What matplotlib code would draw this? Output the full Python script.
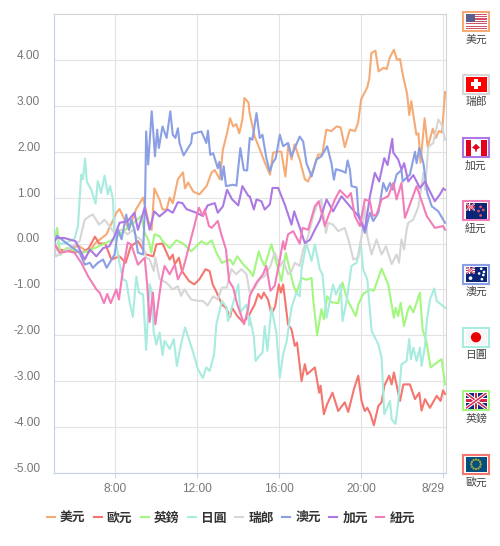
import math
import matplotlib
matplotlib.use("Agg")
from matplotlib import pyplot as plt
from matplotlib.patches import Rectangle, Circle, Polygon

plt.rcParams["font.family"] = ["Liberation Sans", "Noto Sans CJK TC", "DejaVu Sans"]

# hours since midnight of 8/28, percent change
usd_t = [5.0, 5.3, 5.8, 6.2, 6.7, 7.0, 7.56, 8.05, 8.2, 8.45, 8.65, 9.0, 9.35, 9.6, 9.77, 9.9, 10.15, 10.3, 10.5, 10.65, 10.8, 11.05, 11.3, 11.4, 11.55, 11.8, 12.1, 12.45, 12.7, 12.85, 13.1, 13.25, 13.45, 13.6, 13.75, 13.9, 14.05, 14.2, 14.3, 14.5, 14.55, 14.8, 15.05, 15.3, 15.55, 15.7, 15.95, 16.1, 16.3, 16.45, 16.6, 16.75, 17.0, 17.25, 17.4, 17.65, 17.9, 18.1, 18.3, 18.55, 18.8, 19.0, 19.2, 19.45, 19.7, 19.85, 20.0, 20.3, 20.4, 20.5, 20.7, 20.85, 21.1, 21.25, 21.4, 21.6, 21.75, 21.9, 22.05, 22.25, 22.35, 22.45, 22.55, 22.7, 22.8, 22.9, 23.1, 23.25, 23.5, 23.65, 23.8, 23.95, 24.1]
usd_v = [0, -0.2, -0.1, -0.05, -0.2, 0, 0.2, 0.67, 0.75, 0.52, 0.3, 0.74, 1.0, 0.5, 0.3, 1.2, 0.96, 0.74, 0.74, 1.0, 0.88, 1.4, 1.55, 1.2, 1.33, 1.13, 1.07, 1.25, 1.55, 1.6, 1.4, 2.05, 2.4, 2.73, 2.55, 2.6, 2.4, 2.7, 3.17, 3.07, 2.85, 2.33, 2.05, 1.76, 1.5, 1.98, 2.0, 2.0, 1.46, 2.16, 1.83, 2.16, 1.83, 1.4, 1.35, 1.6, 1.94, 1.94, 2.48, 2.45, 2.55, 2.53, 2.1, 2.48, 2.45, 2.63, 3.14, 3.4, 3.6, 4.15, 4.2, 3.75, 3.83, 3.8, 4.05, 4.22, 4.0, 4.02, 3.64, 3.25, 2.8, 3.1, 2.8, 2.37, 2.4, 1.76, 2.73, 2.1, 2.5, 2.3, 2.45, 2.42, 3.3]

eur_t = [5.0, 5.2, 6.4, 6.7, 7.0, 7.2, 7.5, 7.8, 8.2, 8.5, 8.75, 9.1, 9.2, 9.5, 9.85, 10.0, 10.3, 10.5, 10.65, 10.8, 10.9, 11.1, 11.25, 11.6, 11.85, 12.1, 12.4, 12.6, 12.75, 12.95, 13.2, 13.4, 13.6, 13.7, 13.95, 14.25, 14.5, 14.8, 14.97, 15.13, 15.25, 15.46, 15.62, 15.8, 15.98, 16.08, 16.19, 16.43, 16.6, 16.76, 16.87, 17.09, 17.25, 17.36, 17.74, 17.95, 18.02, 18.18, 18.34, 18.6, 18.88, 19.2, 19.37, 19.65, 19.86, 20.02, 20.18, 20.3, 20.46, 20.62, 20.84, 21.0, 21.13, 21.37, 21.49, 21.6, 21.9, 22.06, 22.38, 22.63, 22.84, 22.95, 23.12, 23.36, 23.69, 23.88, 24.0, 24.1]
eur_v = [0, -0.13, -0.2, -0.1, 0.15, 0, 0, -0.35, -0.28, -0.42, -0.06, 0.05, -0.02, -0.24, -0.28, -0.02, 0, -0.2, -0.35, -0.24, -0.45, -0.31, -0.6, -0.82, -0.89, -0.78, -0.56, -0.6, -0.89, -1.07, -1.33, -1.4, -1.6, -1.4, -1.58, -1.72, -1.58, -1.33, -1.1, -1.2, -1.07, -1.23, -1.54, -1.37, -0.89, -1.07, -0.89, -1.76, -1.87, -2.23, -2.16, -3.0, -2.63, -2.85, -2.7, -3.25, -3.1, -3.72, -3.5, -3.25, -3.65, -3.46, -3.67, -3.17, -2.88, -3.43, -3.65, -3.58, -3.72, -3.96, -3.54, -3.46, -3.1, -2.88, -3.07, -2.81, -3.43, -3.07, -3.07, -3.39, -3.25, -3.64, -3.39, -3.58, -3.32, -3.43, -3.2, -3.28]

gbp_t = [5.0, 5.15, 5.3, 5.6, 6.4, 7.0, 7.9, 8.7, 9.27, 9.43, 9.6, 9.75, 9.9, 10.15, 10.3, 10.65, 10.97, 11.3, 11.7, 12.2, 12.45, 12.7, 12.93, 13.2, 13.6, 13.75, 13.95, 14.25, 14.56, 14.72, 15.0, 15.13, 15.29, 15.62, 15.86, 16.11, 16.32, 16.68, 16.84, 17.09, 17.33, 17.58, 17.66, 17.85, 18.06, 18.18, 18.34, 18.55, 18.88, 19.09, 19.32, 19.74, 19.86, 20.1, 20.43, 20.62, 21.0, 21.32, 21.6, 21.68, 21.81, 21.93, 22.09, 22.3, 22.38, 22.55, 22.87, 23.0, 23.2, 23.39, 23.69, 23.93, 24.1]
gbp_v = [0, 0.34, -0.25, -0.1, -0.2, -0.1, 0.09, 0.38, 0.6, 0.23, 0.09, -0.2, 0.2, 0.16, 0.05, -0.1, 0.07, 0, -0.17, 0.05, -0.02, 0.07, -0.2, -0.42, -0.35, -0.46, -0.28, -0.46, -0.6, -0.71, -0.17, -0.35, -0.49, -0.02, -0.42, -0.82, -0.2, -0.89, -1.07, -0.75, -0.79, -0.75, -1.22, -2.0, -1.43, -1.65, -1.15, -1.28, -1.3, -0.85, -1.22, -1.58, -1.33, -1.1, -1.0, -1.03, -0.55, -0.89, -1.62, -1.4, -1.58, -1.29, -1.8, -1.43, -1.36, -1.5, -1.07, -1.87, -2.16, -2.7, -2.6, -2.52, -3.07]

jpy_t = [5.0, 5.5, 6.0, 6.17, 6.33, 6.41, 6.52, 6.6, 6.82, 7.03, 7.14, 7.3, 7.47, 7.63, 7.74, 7.88, 7.95, 8.2, 8.37, 8.53, 8.7, 8.85, 9.02, 9.15, 9.35, 9.5, 9.67, 9.75, 9.87, 10.0, 10.16, 10.3, 10.4, 10.65, 10.85, 11.0, 11.2, 11.4, 11.53, 11.8, 12.03, 12.27, 12.44, 12.6, 12.82, 12.93, 13.2, 13.44, 13.5, 13.75, 14.0, 14.1, 14.4, 14.54, 14.56, 14.76, 14.85, 15.02, 15.18, 15.29, 15.42, 15.62, 15.86, 16.03, 16.19, 16.35, 16.6, 16.84, 17.0, 17.09, 17.33, 17.58, 17.74, 17.98, 18.11, 18.31, 18.63, 18.77, 19.0, 19.09, 19.29, 19.53, 19.78, 19.97, 20.1, 20.3, 20.51, 20.84, 21.0, 21.13, 21.41, 21.49, 21.68, 21.81, 21.97, 22.22, 22.35, 22.43, 22.55, 22.71, 22.87, 22.95, 23.12, 23.2, 23.36, 23.57, 23.69, 24.1]
jpy_v = [0, 0, 0.1, 0.38, 1.5, 1.4, 1.85, 1.35, 1.17, 0.87, 1.36, 1.1, 1.48, 1.07, 1.25, 0.96, 0.2, -0.42, -0.78, -0.82, -1.29, -1.6, -0.72, -1.07, -1.11, -2.32, -0.89, -1.0, -1.94, -2.2, -1.94, -2.43, -2.12, -2.3, -2.08, -2.67, -2.2, -1.83, -2.0, -2.38, -2.74, -2.93, -2.7, -2.78, -2.41, -1.76, -1.25, -1.4, -1.69, -1.29, -0.89, -1.5, -1.33, -1.78, -1.6, -2.04, -2.56, -2.45, -2.38, -1.8, -2.34, -1.4, -1.94, -2.92, -2.41, -2.16, -1.4, -1.07, -1.15, -0.56, 0.0, -0.38, -0.02, -0.56, -0.67, -1.62, -0.89, -1.11, -0.89, -1.69, -1.25, -0.49, -0.42, 0.03, -0.56, -0.78, -1.9, -2.2, -2.49, -3.72, -3.43, -3.83, -3.93, -3.46, -2.63, -2.56, -2.08, -2.52, -2.27, -2.56, -2.27, -2.67, -2.23, -1.72, -1.22, -0.98, -1.25, -1.4]

chf_t = [5.0, 5.1, 5.6, 6.25, 6.5, 6.75, 6.9, 7.2, 7.47, 7.7, 7.96, 8.3, 8.6, 8.85, 9.02, 9.27, 9.5, 9.67, 9.87, 9.95, 10.16, 10.48, 10.8, 11.05, 11.2, 11.37, 11.7, 12.03, 12.27, 12.5, 12.77, 13.0, 13.2, 13.44, 13.66, 13.9, 14.15, 14.4, 14.56, 14.8, 15.05, 15.29, 15.57, 15.78, 16.06, 16.19, 16.43, 16.6, 16.76, 17.0, 17.17, 17.41, 17.66, 17.82, 18.06, 18.28, 18.39, 18.63, 18.88, 19.2, 19.42, 19.62, 19.86, 20.02, 20.18, 20.3, 20.51, 20.75, 21.0, 21.21, 21.49, 21.73, 21.85, 21.97, 22.1, 22.22, 22.3, 22.55, 22.8, 23.04, 23.12, 23.28, 23.52, 23.77, 23.93, 24.1]
chf_v = [0, -0.28, -0.15, 0.05, 0.52, 0.6, 0.63, 0.41, 0.52, 0.38, 0.23, 0.3, 0.2, 0.3, 0.15, 0.08, -0.31, -0.35, -0.6, -0.31, -0.78, -0.85, -1.0, -0.93, -1.14, -1.0, -1.22, -1.25, -1.25, -1.35, -1.15, -1.22, -0.96, -0.96, -0.56, -0.67, -0.56, -0.67, -1.07, -0.96, -0.78, -0.71, -0.49, -0.2, -0.49, -0.38, -0.67, -0.6, -0.42, -0.49, -0.13, 0.16, 0.6, 0.81, 0.96, 0.23, 0.45, 0.41, 0.27, 0.34, 0.02, -0.35, -0.31, 0.15, 0.81, 0.16, -0.24, 0.09, -0.24, -0.06, -0.45, -0.24, -0.42, 0.09, -0.13, 0.3, 0.45, 0.52, 0.81, 1.54, 1.17, 2.1, 2.19, 2.7, 2.59, 2.26]

aud_t = [5.0, 5.15, 5.6, 6.25, 6.5, 6.75, 6.9, 7.14, 7.4, 7.57, 7.96, 8.13, 8.3, 8.53, 8.66, 8.77, 8.93, 9.1, 9.35, 9.45, 9.5, 9.6, 9.77, 9.83, 9.93, 10.04, 10.12, 10.3, 10.5, 10.68, 10.8, 10.93, 11.05, 11.13, 11.33, 11.7, 11.75, 12.2, 12.44, 12.52, 12.63, 12.77, 13.0, 13.08, 13.2, 13.29, 13.4, 13.75, 13.91, 14.1, 14.27, 14.43, 14.56, 14.69, 14.89, 15.05, 15.18, 15.37, 15.54, 15.67, 15.83, 16.03, 16.19, 16.43, 16.6, 16.76, 17.0, 17.17, 17.33, 17.58, 17.82, 18.06, 18.34, 18.55, 18.67, 18.77, 19.12, 19.24, 19.34, 19.45, 19.53, 19.78, 19.86, 20.18, 20.43, 20.59, 20.84, 21.08, 21.24, 21.41, 21.54, 21.73, 21.97, 22.03, 22.38, 22.63, 22.71, 22.84, 23.04, 23.23, 23.45, 23.77, 24.1]
aud_v = [0, 0.17, 0.01, -0.2, -0.46, -0.42, -0.53, -0.42, -0.35, -0.53, -0.24, 0.3, 0.09, 0.63, 0.3, 0.52, 0.3, -0.2, -0.24, 0.96, 2.44, 1.72, 2.88, 2.55, 1.9, 2.48, 2.08, 2.55, 2.3, 2.88, 2.37, 2.3, 2.51, 2.19, 1.92, 2.19, 2.39, 2.44, 2.19, 2.46, 1.93, 1.97, 1.64, 1.78, 1.39, 1.68, 1.25, 1.28, 1.26, 2.08, 1.6, 1.59, 2.3, 2.26, 2.84, 2.3, 2.37, 1.86, 1.57, 1.75, 1.86, 2.37, 2.12, 2.19, 1.9, 2.08, 2.33, 2.22, 1.75, 1.46, 1.83, 1.9, 2.12, 1.75, 1.39, 1.62, 1.57, 1.54, 1.81, 1.61, 1.25, 1.22, 0.67, 0.23, 0.67, 0.49, 0.67, 1.32, 1.14, 1.32, 1.17, 1.5, 1.6, 1.35, 1.5, 2.0, 1.75, 2.08, 1.75, 1.1, 0.81, 0.7, 0.45]

cad_t = [5.0, 5.1, 5.5, 6.05, 6.5, 6.75, 7.07, 7.4, 7.7, 7.96, 8.2, 8.6, 8.93, 9.1, 9.43, 9.67, 9.9, 10.15, 10.55, 10.8, 11.05, 11.27, 11.47, 11.95, 12.27, 12.5, 12.85, 13.0, 13.25, 13.45, 13.7, 14.0, 14.2, 14.5, 14.56, 14.76, 14.89, 15.13, 15.29, 15.54, 15.67, 15.95, 16.27, 16.6, 16.73, 17.09, 17.25, 17.5, 17.74, 17.98, 18.31, 18.63, 19.04, 19.45, 19.86, 20.18, 20.43, 20.67, 20.88, 21.13, 21.29, 21.52, 21.57, 21.81, 21.97, 22.1, 22.3, 22.55, 22.71, 22.87, 23.12, 23.6, 23.85, 24.01, 24.1]
cad_v = [0, 0.12, 0.12, 0.05, -0.35, -0.13, -0.28, -0.1, -0.06, 0.16, 0.45, 0.49, 0.67, 0.3, 0.78, 0.3, 0.7, 0.59, 0.74, 0.67, 0.9, 0.88, 0.75, 0.67, 0.6, 0.83, 0.88, 0.67, 0.81, 1.17, 0.96, 0.83, 1.25, 1.03, 1.03, 0.74, 0.96, 0.92, 0.74, 0.85, 1.21, 1.21, 0.85, 0.41, 0.7, 0.23, 0.01, 0.08, 0.3, 0.5, 0.96, 0.7, 1.03, 0.81, 0.6, 0.3, 1.03, 1.54, 1.35, 1.86, 1.71, 2.28, 1.98, 1.83, 1.61, 1.75, 1.35, 1.49, 1.35, 1.21, 1.35, 0.92, 1.07, 1.2, 1.17]

nzd_t = [5.0, 5.27, 5.68, 6.0, 6.33, 6.66, 7.07, 7.23, 7.44, 7.6, 7.77, 8.04, 8.17, 8.37, 8.6, 8.77, 9.1, 9.43, 9.55, 9.67, 9.83, 9.95, 10.08, 10.24, 10.4, 10.65, 10.9, 11.05, 11.3, 11.45, 11.85, 12.07, 12.28, 12.36, 12.57, 12.7, 13.0, 13.17, 13.4, 13.55, 13.75, 13.95, 14.15, 14.28, 14.48, 14.56, 14.89, 15.21, 15.37, 15.57, 15.78, 16.0, 16.19, 16.27, 16.43, 16.68, 17.0, 17.14, 17.41, 17.74, 17.93, 18.23, 18.39, 18.72, 18.96, 19.33, 19.5, 19.69, 19.94, 20.18, 20.43, 20.56, 20.75, 21.0, 21.32, 21.57, 21.73, 21.97, 22.14, 22.38, 22.71, 22.99, 23.2, 23.6, 24.01, 24.1]
nzd_v = [0, -0.2, -0.17, -0.2, -0.42, -0.71, -1.0, -1.07, -1.3, -1.1, -1.3, -1.0, -1.22, -0.57, 0.02, -0.02, -0.46, -0.31, -0.89, -1.71, -1.07, -1.76, -1.33, -0.82, -0.49, -0.67, -0.46, -0.78, -0.56, -0.31, 0.38, 0.78, 0.6, 0.74, 0.38, 0.34, 0.49, 0.2, -0.13, -0.82, -0.96, -1.33, -1.58, -1.76, -1.43, -1.14, -0.85, -0.67, -0.49, -1.03, -0.92, -0.42, 0.05, -0.13, 0.2, 0.27, 0.0, 0.34, 0.3, 0.81, 0.92, 0.38, 0.59, 0.96, 1.16, 1.0, 1.1, 0.6, 0.38, 0.96, 0.92, 0.6, 0.63, 0.96, 1.03, 1.32, 0.96, 1.32, 0.56, 0.85, 1.25, 0.88, 0.6, 0.34, 0.38, 0.3]

names = ["美元", "歐元", "英鎊", "日圓", "瑞郎", "澳元", "加元", "紐元"]
colors = ["#f5ab75", "#f4766f", "#a3f780", "#a8ebdf", "#d6d6d6", "#8a9fe4", "#ac79e4", "#f27db9"]
times = [usd_t, eur_t, gbp_t, jpy_t, chf_t, aud_t, cad_t, nzd_t]
values = [usd_v, eur_v, gbp_v, jpy_v, chf_v, aud_v, cad_v, nzd_v]

y_ticks = [4, 3, 2, 1, 0, -1, -2, -3, -4, -5]
x_ticks = [8, 12, 16, 20, 24]
x_labels = ["8:00", "12:00", "16:00", "20:00", "8/29"]

W, H = 500, 546
fig = plt.figure(figsize=(W / 100, H / 100), dpi=100)
ax = fig.add_axes([54.0 / W, 1 - 473.0 / H, 391.7 / W, 459 / H])

for t, v, c, n in zip(times, values, colors, names):
    ax.plot(t, v, color=c, lw=1.5, label=n, solid_joinstyle="round")

ax.set_xlim(5, 24.13)
ax.set_ylim(-5, 5)
ax.set_yticks(y_ticks)
ax.set_yticklabels([])
# labels sit a little above their gridlines
for y in y_ticks:
    ax.annotate("%.2f" % y, xy=(0, y), xycoords=ax.get_yaxis_transform(), xytext=(-10.0, 2.9),
                textcoords="offset points", ha="right", va="center", color="#777777", fontsize=8.6)
ax.set_xticks(x_ticks)
ax.set_xticklabels(x_labels[:-1] + [""], color="#777777", fontsize=8.6)
ax.annotate(x_labels[-1], xy=(24, 0), xycoords=ax.get_xaxis_transform(), xytext=(1.4, -6.9),
            textcoords="offset points", ha="right", va="top", color="#777777", fontsize=8.6)
ax.tick_params(axis="y", length=0)
ax.tick_params(axis="x", length=3.5, width=0.8, color="#ccd6eb", pad=4)
ax.grid(True, color="#e3e3e3", lw=0.8)
ax.set_axisbelow(True)
ax.spines["left"].set_color("#c4d0e8")
ax.spines["bottom"].set_color("#c4d0e8")
ax.spines["top"].set_color("#d2d2d2")
ax.spines["right"].set_color("#d2d2d2")
for s in ax.spines.values():
    s.set_linewidth(0.8)

leg = ax.legend(
    loc="center left",
    ncol=8,
    frameon=False,
    handlelength=0.63,
    handletextpad=0.39,
    columnspacing=0.665,
    borderpad=0,
    borderaxespad=0,
    prop={"weight": "bold", "size": 9.2},
)
leg.set_bbox_to_anchor((47 / W, 1 - 518.5 / H), transform=fig.transFigure)
for t in leg.get_texts():
    t.set_color("#333333")

# flag column on the right, drawn in pixel coordinates
ov = fig.add_axes([0, 0, 1, 1], zorder=5)
ov.set_xlim(0, W)
ov.set_ylim(H, 0)
ov.axis("off")


def rect(x, y, w, h, c):
    p = Rectangle((x, y), w, h, facecolor=c, edgecolor="none")
    ov.add_patch(p)
    return p


def union_jack(x, y, w, h):
    clip = rect(x, y, w, h, "#0c2a80")
    for a, b in [((x, y), (x + w, y + h)), ((x, y + h), (x + w, y))]:
        ln, = ov.plot([a[0], b[0]], [a[1], b[1]], color="white", lw=h * 0.16, solid_capstyle="butt")
        ln.set_clip_path(clip)
        ln, = ov.plot([a[0], b[0]], [a[1], b[1]], color="#d4284a", lw=h * 0.07, solid_capstyle="butt")
        ln.set_clip_path(clip)
    rect(x + w / 2 - w * 0.1, y, w * 0.2, h, "white")
    rect(x, y + h / 2 - h * 0.16, w, h * 0.32, "white")
    rect(x + w / 2 - w * 0.05, y, w * 0.1, h, "#d4284a")
    rect(x, y + h / 2 - h * 0.09, w, h * 0.18, "#d4284a")


def flag_us(x, y, w, h):
    rect(x, y, w, h, "white")
    for i in range(0, 7):
        rect(x, y + i * h * 2 / 13, w, h / 13, "#d0566a")
    rect(x, y, w * 0.45, h * 7 / 13, "#5a5f90")


def flag_ch(x, y, w, h):
    rect(x, y, w, h, "#ff0000")
    rect(x + w / 2 - 1.8, y + h / 2 - 5.2, 3.6, 10.4, "white")
    rect(x + w / 2 - 5.2, y + h / 2 - 1.8, 10.4, 3.6, "white")


def flag_ca(x, y, w, h):
    rect(x, y, w, h, "white")
    rect(x, y, w * 0.25, h, "#e3001b")
    rect(x + w * 0.75, y, w * 0.25, h, "#e3001b")
    cx, cy = x + w / 2, y + h / 2
    ov.add_patch(Polygon([(cx, cy - 4), (cx + 4, cy), (cx + 1, cy + 1.5), (cx + 0.6, cy + 4), (cx - 0.6, cy + 4), (cx - 1, cy + 1.5), (cx - 4, cy)], facecolor="#e3001b", edgecolor="none"))


def flag_nz(x, y, w, h):
    rect(x, y, w, h, "#0a2578")
    union_jack(x, y, w * 0.47, h * 0.5)
    for dx, dy in [(0.72, 0.25), (0.85, 0.45), (0.62, 0.52), (0.72, 0.8)]:
        ov.add_patch(Circle((x + dx * w, y + dy * h), 0.7, color="#e0506a"))


def flag_au(x, y, w, h):
    rect(x, y, w, h, "#0a2578")
    union_jack(x, y, w * 0.47, h * 0.5)
    ov.add_patch(Circle((x + 0.24 * w, y + 0.75 * h), 1.1, color="white"))
    for dx, dy in [(0.75, 0.15), (0.88, 0.35), (0.65, 0.45), (0.78, 0.82), (0.85, 0.55)]:
        ov.add_patch(Circle((x + dx * w, y + dy * h), 0.6, color="white"))


def flag_jp(x, y, w, h):
    rect(x, y, w, h, "#f6f6f6")
    ov.add_patch(Circle((x + w / 2, y + h / 2), 4.4, color="#eb0000"))


def flag_gb(x, y, w, h):
    union_jack(x, y, w, h)


def flag_eu(x, y, w, h):
    rect(x, y, w, h, "#03507f")
    cx, cy = x + w / 2, y + h / 2
    for i in range(12):
        a = i * math.pi / 6
        ov.add_patch(Circle((cx + 4.8 * math.cos(a), cy + 4.8 * math.sin(a)), 0.45, color="#a8a43c"))


flag_rows = [
    ("美元", "#f5ab75", 10.7, flag_us),
    ("瑞郎", "#d6d6d6", 73.5, flag_ch),
    ("加元", "#ac79e4", 137, flag_ca),
    ("紐元", "#f27db9", 200, flag_nz),
    ("澳元", "#8a9fe4", 263.5, flag_au),
    ("日圓", "#a8ebdf", 326.5, flag_jp),
    ("英鎊", "#a3f780", 390, flag_gb),
    ("歐元", "#f4766f", 453.5, flag_eu),
]
for name, color, y0, draw in flag_rows:
    ov.add_patch(Rectangle((463, y0 + 1), 25.5, 19, facecolor="white", edgecolor=color, lw=1.5))
    draw(465.5, y0 + 3, 21, 15.5)
    ov.text(476, y0 + 28.5, name, ha="center", va="center", fontsize=7.8, color="#444444")

fig.savefig("out.png", dpi=100)
